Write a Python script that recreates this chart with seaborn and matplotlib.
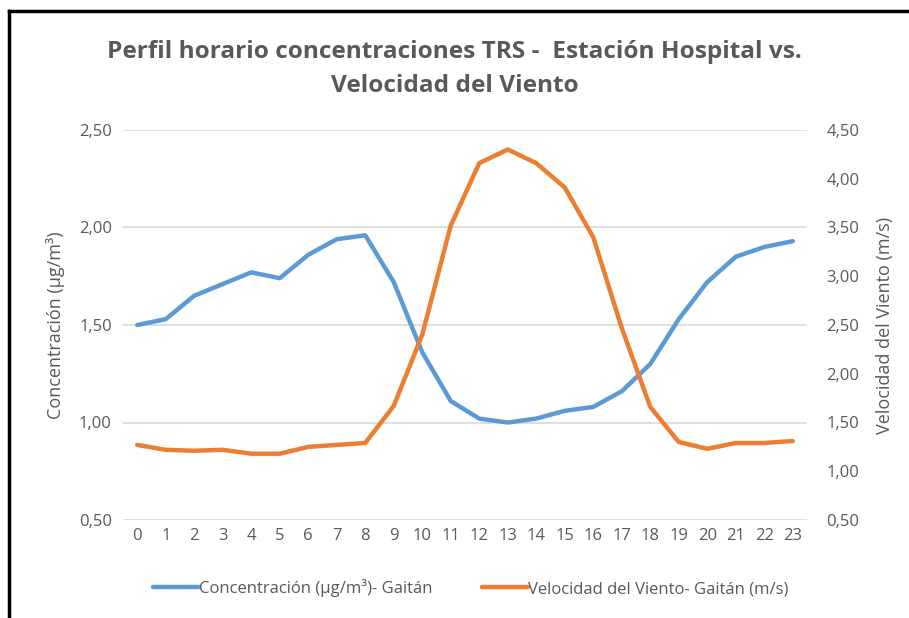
import numpy as np
import pandas as pd
import matplotlib
matplotlib.use("Agg")
import matplotlib.pyplot as plt
import seaborn as sns
from matplotlib.lines import Line2D
from matplotlib.ticker import FuncFormatter, MultipleLocator

hours = list(range(24))
concentracion = [1.50, 1.53, 1.65, 1.71, 1.77, 1.74, 1.86, 1.94, 1.96, 1.72, 1.36, 1.11,
                 1.02, 1.00, 1.02, 1.06, 1.08, 1.16, 1.30, 1.53, 1.72, 1.85, 1.90, 1.93]
velocidad = [1.27, 1.22, 1.21, 1.22, 1.18, 1.18, 1.25, 1.27, 1.29, 1.67, 2.40, 3.52,
             4.16, 4.30, 4.16, 3.91, 3.40, 2.47, 1.66, 1.30, 1.23, 1.29, 1.29, 1.31]
label_conc = "Concentración (µg/m³)- Gaitán"
label_vel = "Velocidad del Viento- Gaitán (m/s)"
title = "Perfil horario concentraciones TRS -  Estación Hospital vs.\nVelocidad del Viento"
ylabel_left = "Concentración (µg/m³)"
ylabel_right = "Velocidad del Viento (m/s)"

sns.set_theme(style="white")
plt.rcParams['font.family'] = ["Open Sans", 'DejaVu Sans']

gray = "#595959"
blue = "#5B9BD5"
orange = "#ED7D31"

df = pd.DataFrame({"hora": hours, "conc": concentracion, "vel": velocidad})

fig = plt.figure(figsize=(9.09, 6.18), dpi=100)
ax = fig.add_axes([123/909, 1-520/618, (807-123)/909, 390/618])
ax2 = ax.twinx()

sns.lineplot(data=df, x="hora", y="conc", ax=ax, color=blue, linewidth=3.2, legend=False)
sns.lineplot(data=df, x="hora", y="vel", ax=ax2, color=orange, linewidth=3.2, legend=False)

ax.set_xlim(-0.5, 23.5)
ax.set_ylim(0.5, 2.5)
ax2.set_ylim(0.5, 4.5)
ax.yaxis.set_major_locator(MultipleLocator(0.5))
ax2.yaxis.set_major_locator(MultipleLocator(0.5))
fmt = FuncFormatter(lambda v, p: f"{v:.2f}".replace(".", ","))
ax.yaxis.set_major_formatter(fmt)
ax2.yaxis.set_major_formatter(fmt)
ax.set_xticks(hours)
ax.set_xticklabels([str(h) for h in hours])

ax.grid(axis="y", color="#D9D9D9", linewidth=1.2)
ax.grid(axis="x", visible=False)
ax2.grid(False)
for a in (ax, ax2):
    for s in a.spines.values():
        s.set_visible(False)
    a.tick_params(axis="both", length=0, labelsize=12, colors=gray, pad=8)
ax.tick_params(axis="x", pad=6)
ax2.tick_params(axis="y", pad=14)
ax.set_xlabel("")
ax.set_ylabel(ylabel_left, fontsize=13, color=gray, labelpad=10)
ax2.set_ylabel(ylabel_right, fontsize=13, color=gray, labelpad=12)

fig.text(0.5, 1-69/618, title, ha="center", va="center", fontsize=17.6,
         fontweight="bold", color=gray, linespacing=1.55)

handles = [Line2D([], [], color=blue, linewidth=3.2),
           Line2D([], [], color=orange, linewidth=3.2)]
fig.legend(handles, [label_conc, label_vel], loc="center", bbox_to_anchor=(0.518, 1-588/618),
           ncol=2, frameon=False, fontsize=12, handlelength=2.75, handletextpad=0.0,
           columnspacing=3.0, labelcolor=gray)

fig.add_artist(Line2D([9/909, 9/909], [0, 1-11/618], transform=fig.transFigure,
                      color="black", linewidth=2.5, solid_capstyle="projecting"))
fig.add_artist(Line2D([9/909, 1], [1-11/618, 1-11/618], transform=fig.transFigure,
                      color="black", linewidth=2.5, solid_capstyle="projecting"))

fig.savefig("out.png", dpi=100, facecolor="white")
